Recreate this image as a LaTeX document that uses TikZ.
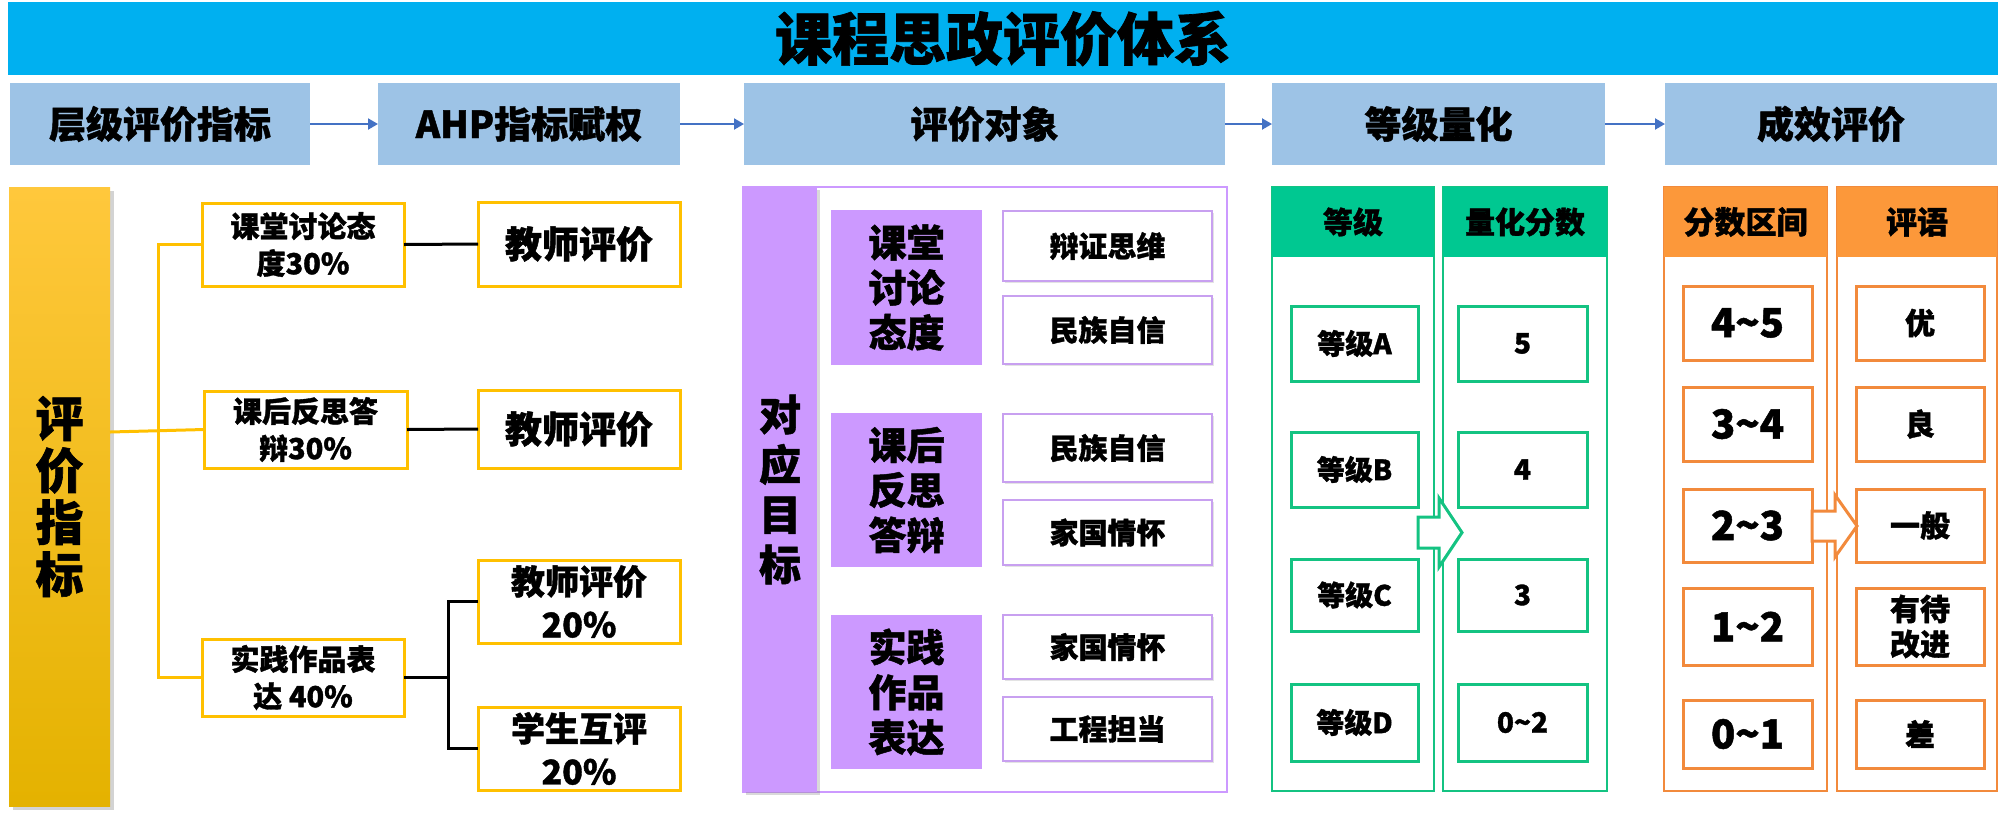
\documentclass[tikz,border=0pt]{standalone}
\usepackage{fontspec}
\setmainfont{Noto Sans CJK SC}[BoldFeatures={FakeBold=1.2}]
\usetikzlibrary{arrows.meta,shadows}
\definecolor{titleblue}{RGB}{0,176,240}
\definecolor{headblue}{RGB}{157,195,230}
\definecolor{arrowblue}{RGB}{68,114,196}
\definecolor{gold}{RGB}{255,192,0}
\definecolor{goldtop}{RGB}{255,200,60}
\definecolor{goldbot}{RGB}{228,178,0}
\definecolor{violet1}{RGB}{204,153,255}
\definecolor{violetline}{RGB}{200,160,240}
\definecolor{greenhead}{RGB}{0,200,145}
\definecolor{greenline}{RGB}{20,195,130}
\definecolor{orangehead}{RGB}{252,152,58}
\definecolor{orangeline}{RGB}{242,138,60}
\newcommand{\fs}[2]{\fontsize{#1}{#2}\selectfont\bfseries}
\newcommand{\bx}[7]{\node[#1,minimum width={((#4)-(#2))*0.5pt},minimum height={((#5)-(#3))*0.5pt}] (#6) at ({((#2)+(#4))/2},{((#3)+(#5))/2}) {#7};}
\tikzset{
  base/.style={inner sep=0pt,outer sep=0pt,align=center,font=\bfseries},
  softshadow/.style={drop shadow={opacity=0.22,shadow xshift=1pt,shadow yshift=-1pt}},
  titlebar/.style={base,fill=titleblue,font=\fs{28.5}{34}},
  headbox/.style={base,fill=headblue,font=\fs{18.5}{22}},
  harrow/.style={draw=arrowblue,line width=1pt,-{Triangle[length=5pt,width=5.5pt]}},
  ybar/.style={base,top color=goldtop,bottom color=goldbot,font=\fs{24}{26},drop shadow={opacity=0.35,shadow xshift=2pt,shadow yshift=-2pt}},
  ybox/.style={base,draw=gold,line width=1.5pt,fill=white,softshadow,font=\fs{14.5}{18.5}},
  tbox/.style={base,draw=gold,line width=1.5pt,fill=white,softshadow,font=\fs{18.5}{21.5}},
  tbox2/.style={tbox,font=\fs{17}{21.5}},
  yline/.style={draw=gold,line width=1.5pt},
  kline/.style={draw=black,line width=1.5pt},
  pframe/.style={base,draw=violet1,line width=1pt},
  pbar/.style={base,fill=violet1,font=\fs{21}{25},drop shadow={opacity=0.3,shadow xshift=1.5pt,shadow yshift=-1.5pt}},
  pbox/.style={base,fill=violet1,font=\fs{19}{22.5}},
  wbox/.style={base,draw=violetline,line width=1.2pt,fill=white,softshadow,font=\fs{14.5}{18}},
  gframe/.style={base,draw=greenline,line width=1.2pt},
  ghead/.style={base,fill=greenhead,font=\fs{15}{18}},
  gbox/.style={base,draw=greenline,line width=1.5pt,fill=white,softshadow,font=\fs{14}{17}},
  oframe/.style={base,draw=orangeline,line width=1.2pt},
  ohead/.style={base,fill=orangehead,font=\fs{15.5}{18}},
  obox/.style={base,draw=orangeline,line width=1.5pt,fill=white,softshadow,font=\fs{20}{22}},
  cbox/.style={base,draw=orangeline,line width=1.5pt,fill=white,softshadow,font=\fs{15}{17.5}},
}
\begin{document}
\begin{tikzpicture}[x=0.5pt,y=-0.5pt]
\useasboundingbox (0,0) rectangle (2000,815);
% title
\bx{titlebar}{8}{2}{1998}{75}{title}{课程思政评价体系}
% header row
\bx{headbox}{10}{83}{310}{165}{h1}{层级评价指标}
\bx{headbox}{378}{83}{680}{165}{h2}{AHP指标赋权}
\bx{headbox}{744}{83}{1225}{165}{h3}{评价对象}
\bx{headbox}{1272}{83}{1605}{165}{h4}{等级量化}
\bx{headbox}{1665}{83}{1997}{165}{h5}{成效评价}
\draw[harrow] (h1.east) -- (h2.west);
\draw[harrow] (h2.east) -- (h3.west);
\draw[harrow] (h3.east) -- (h4.west);
\draw[harrow] (h4.east) -- (h5.west);
% left section
\bx{ybar}{9}{187}{110}{806}{bar}{评\\价\\指\\标}
\bx{ybox}{202}{203}{404}{286}{b1}{课堂讨论态\\度30\%}
\bx{ybox}{204}{391}{407}{468}{b2}{课后反思答\\辩30\%}
\bx{ybox}{202}{639}{404}{716}{b3}{实践作品表\\达 40\%}
\bx{tbox}{478}{202}{680}{286}{t1}{教师评价}
\bx{tbox}{478}{390}{680}{468}{t2}{教师评价}
\bx{tbox2}{478}{560}{680}{643}{t3}{教师评价\\20\%}
\bx{tbox2}{478}{707}{680}{790}{t4}{学生互评\\20\%}
\coordinate (tr) at (158,432);
\coordinate (fk) at (448,677);
\draw[yline] (bar.east |- tr) -- (b2.west);
\draw[yline] (b1.west) -- (b1.west -| tr) -- (b3.west -| tr) -- (b3.west);
\draw[kline] (b1.east) -- (t1.west);
\draw[kline] (b2.east) -- (t2.west);
\draw[kline] (b3.east) -- (b3.east -| fk);
\draw[kline] (t3.west) -- (t3.west -| fk) -- (t4.west -| fk) -- (t4.west);
% purple section
\bx{pframe}{743}{187}{1227}{792}{pf}{}
\bx{pbar}{743}{187}{817}{792}{pb}{对\\应\\目\\标}
\bx{pbox}{831}{210}{982}{365}{pA}{课堂\\讨论\\态度}
\bx{pbox}{831}{413}{982}{567}{pB}{课后\\反思\\答辩}
\bx{pbox}{831}{615}{982}{769}{pC}{实践\\作品\\表达}
\bx{wbox}{1003}{211}{1212}{281}{w1}{辩证思维}
\bx{wbox}{1003}{296}{1212}{364}{w2}{民族自信}
\bx{wbox}{1003}{414}{1212}{482}{w3}{民族自信}
\bx{wbox}{1003}{500}{1212}{565}{w4}{家国情怀}
\bx{wbox}{1003}{615}{1212}{679}{w5}{家国情怀}
\bx{wbox}{1003}{697}{1212}{761}{w6}{工程担当}
% green section
\bx{gframe}{1272}{187}{1434}{791}{gf1}{}
\bx{gframe}{1443}{187}{1607}{791}{gf2}{}
\bx{ghead}{1272}{187}{1434}{257}{gh1}{等级}
\bx{ghead}{1443}{187}{1607}{257}{gh2}{量化分数}
\bx{gbox}{1291}{306}{1418}{381}{ga}{等级A}
\bx{gbox}{1291}{432}{1418}{507}{gb}{等级B}
\bx{gbox}{1291}{559}{1418}{631}{gc}{等级C}
\bx{gbox}{1291}{684}{1418}{761}{gd}{等级D}
\bx{gbox}{1458}{306}{1587}{381}{na}{5}
\bx{gbox}{1458}{432}{1587}{507}{nb}{4}
\bx{gbox}{1458}{559}{1587}{631}{nc}{3}
\bx{gbox}{1458}{684}{1587}{761}{nd}{0\textasciitilde 2}
\draw[draw=greenline,line width=1.5pt,fill=white,line join=miter]
  (1418,517) -- (1439,517) -- (1439,498) -- (1462,532.5) -- (1439,567) -- (1439,548) -- (1418,548) -- cycle;
% orange section
\bx{oframe}{1664}{187}{1827}{791}{of1}{}
\bx{oframe}{1837}{187}{1997}{791}{of2}{}
\bx{ohead}{1664}{187}{1827}{257}{oh1}{分数区间}
\bx{ohead}{1837}{187}{1997}{257}{oh2}{评语}
\bx{obox}{1683}{286}{1812}{360}{r1}{4\textasciitilde 5}
\bx{obox}{1683}{387}{1812}{461}{r2}{3\textasciitilde 4}
\bx{obox}{1683}{489}{1812}{562}{r3}{2\textasciitilde 3}
\bx{obox}{1683}{588}{1812}{665}{r4}{1\textasciitilde 2}
\bx{obox}{1683}{700}{1812}{768}{r5}{0\textasciitilde 1}
\bx{cbox}{1856}{286}{1984}{360}{c1}{优}
\bx{cbox}{1856}{387}{1984}{461}{c2}{良}
\bx{cbox}{1856}{489}{1984}{562}{c3}{一般}
\bx{cbox}{1856}{588}{1984}{665}{c4}{有待\\改进}
\bx{cbox}{1856}{700}{1984}{768}{c5}{差}
\draw[draw=orangeline,line width=1.5pt,fill=white,line join=miter]
  (1812,511) -- (1835,511) -- (1835,495) -- (1857,526) -- (1835,557) -- (1835,541) -- (1812,541) -- cycle;
\end{tikzpicture}
\end{document}
